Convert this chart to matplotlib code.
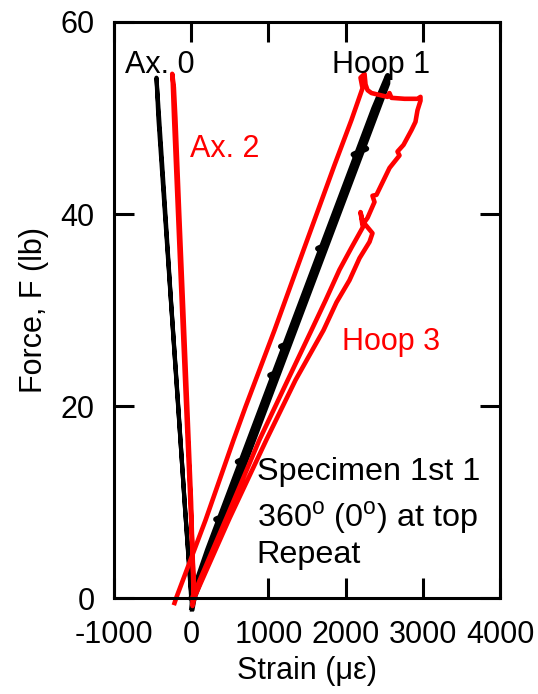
import matplotlib
matplotlib.use("Agg")
import matplotlib.pyplot as plt

plt.rcParams["font.family"] = ["Liberation Sans", "DejaVu Sans"]
plt.rcParams["mathtext.fontset"] = "custom"
plt.rcParams["mathtext.rm"] = "Liberation Sans"
plt.rcParams["axes.unicode_minus"] = False

# Axial gauge 0 (black): loading then unloading
ax0_strain = [0, -85, -170, -255, -340, -425, -450, -440, -350, -262, -172, -82, 5, 8]
ax0_force = [0, 10, 20, 30, 40, 50, 54.2, 53.0, 42.0, 31.0, 20.5, 9.5, 0, -1.2]

# Axial gauge 2 (red)
ax2_strain = [40, -10, -65, -118, -170, -222, -240, -246, -225, -205, -155, -103, -52, -2, 32]
ax2_force = [0, 10, 20, 30, 40, 50, 54.0, 54.6, 53.2, 50, 40, 30, 20, 10, 0]

# Hoop gauge 1 (black)
hoop1_strain = [0, 214, 354, 320, 373, 635, 600, 654, 916, 1056, 1020, 1075, 1197,
                1160, 1216, 1478, 1674, 1640, 1693, 1946, 2133, 2100, 2152, 2367,
                2545, 2543, 2375, 2235, 2270, 2216, 1907, 1673, 1439, 1205, 971,
                737, 503, 269, 35, 12]
hoop1_force = [0, 5, 8.0, 8.2, 8.4, 14.0, 14.2, 14.4, 20, 23.0, 23.2, 23.4, 26.0,
               26.2, 26.4, 32, 36.2, 36.4, 36.6, 42, 46.0, 46.2, 46.4, 51,
               54.4, 53.6, 50, 47.0, 46.8, 46.6, 40, 35, 30, 25, 20,
               15, 10, 5, 0, -1.0]

# Hoop gauge 3 (red)
hoop3_strain = [-216, -190, 185, 548, 703, 1079, 1455, 1856, 2076, 2219, 2193, 2245,
                2258, 2284, 2335, 2439, 2543, 2568, 2594, 2763, 2931, 2970, 2970,
                2931, 2905, 2854, 2750, 2672, 2698, 2569, 2400, 2348, 2374, 2284,
                2218, 2193, 2232, 2076, 1921, 1740, 1558, 1221, 885, 470, 17, 17,
                43, 496, 975, 1351, 1714, 1882, 2050, 2180, 2310, 2348, 2271]
hoop3_force = [-0.52, 0.1, 8.1, 16.46, 19.9, 27.9, 36.25, 45.1, 49.8, 53.1, 54.2, 54.6,
               53.5, 52.9, 52.6, 52.4, 52.2, 52.6, 52.1, 52.0, 52.0, 52.2, 51.8,
               50.8, 49.6, 48.75, 47.2, 46.5, 46.1, 44.8, 42.0, 41.9, 41.25, 39.6,
               38.85, 40.2, 38.75, 36.5, 34.2, 31.0, 27.9, 22.2, 16.5, 8.6, 0.1, -0.83,
               0.1, 8.3, 16.5, 22.7, 27.9, 30.8, 33.1, 35.4, 37.1, 38.0, 38.75]

x_ticks = [-1000, 0, 1000, 2000, 3000, 4000]
y_ticks = [0, 20, 40, 60]

fig = plt.figure(figsize=(5.38, 6.94), dpi=100)
ax = fig.add_axes([0.2119, 0.1383, 0.7175, 0.830])

ax.plot(ax0_strain, ax0_force, color="black", lw=3.0, clip_on=False)
ax.plot(hoop1_strain, hoop1_force, color="black", lw=4.0, clip_on=False)
ax.plot(ax2_strain, ax2_force, color="red", lw=3.3, clip_on=False)
ax.plot(hoop3_strain, hoop3_force, color="red", lw=3.3, clip_on=False)

ax.set_xlim(-1000, 4000)
ax.set_ylim(0, 60)
ax.set_xticks(x_ticks)
ax.set_yticks(y_ticks)
ax.tick_params(direction="in", length=14.5, width=2.2, top=True, right=True,
               labelsize=22, colors="black")
ax.tick_params(axis="x", pad=16)
ax.tick_params(axis="y", pad=14)
for s in ax.spines.values():
    s.set_linewidth(2.2)

ax.set_xlabel("Strain (με)", fontsize=22, labelpad=4)
ax.set_ylabel("Force, F (lb)", fontsize=22, labelpad=8)

fs = 22
fs_note = 23.3
ax.text(-864, 54.65, "Ax. 0", color="black", fontsize=fs, va="baseline")
ax.text(1830, 54.65, "Hoop 1", color="black", fontsize=fs, va="baseline")
ax.text(-13, 45.97, "Ax. 2", color="red", fontsize=fs, va="baseline")
ax.text(1955, 25.83, "Hoop 3", color="red", fontsize=fs, va="baseline")
ax.text(850, 12.29, "Specimen 1st 1", color="black", fontsize=fs_note, va="baseline")
ax.text(850, 7.43, r"360$^\mathregular{o}$ (0$^\mathregular{o}$) at top", color="black",
        fontsize=fs_note, va="baseline")
ax.text(850, 3.61, "Repeat", color="black", fontsize=fs_note, va="baseline")

fig.savefig("out.png", dpi=100)
